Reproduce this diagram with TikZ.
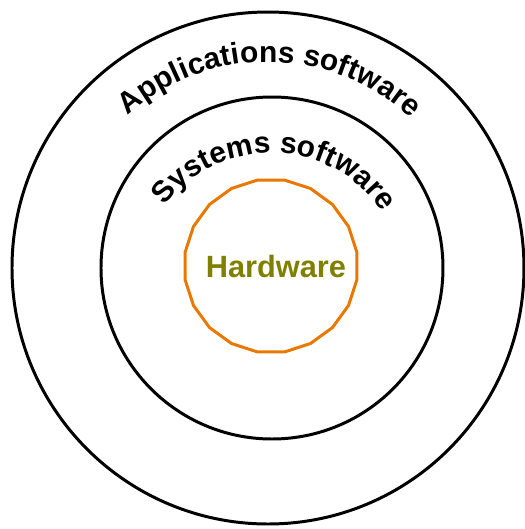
\documentclass[tikz,border=0pt]{standalone}
\usepackage{fontspec}
\setmainfont{Liberation Sans}
\usetikzlibrary{decorations.text, shapes.geometric}
\definecolor{hwolive}{RGB}{128,128,0}
\definecolor{hworange}{RGB}{234,120,0}

\begin{document}
\begin{tikzpicture}[line width=1.7pt]
    \useasboundingbox (-5.36,-5.22) rectangle (5.14,5.36);
    \draw(0,0) circle (5.12);
    \draw(0.08,0) circle (3.42);
    \node[draw=hworange,regular polygon,regular polygon sides=20,minimum size=3.48cm,inner sep=0pt,outer sep=0pt] (hw) at (0.06,0.04) {};
    \node[text=hwolive,font=\fontsize{17.5}{20}\bfseries\selectfont,inner sep=0pt] (hwtext) at (0.16,0.02) {Hardware};
\path[shift={(0,-0.08)},decorate,decoration={text along path,text align=center,
    text={|\fontsize{17}{20}\bfseries\selectfont|Applications software}}] (132:4.2) arc (132:47:4.2);
\path[shift={(0.06,-0.05)},decorate,decoration={text along path,text align=center,
    text={|\fontsize{17}{20}\bfseries\selectfont|Systems software}}] (148:2.55 and 2.35) arc (148:28:2.55 and 2.35);
\end{tikzpicture}
\end{document}
